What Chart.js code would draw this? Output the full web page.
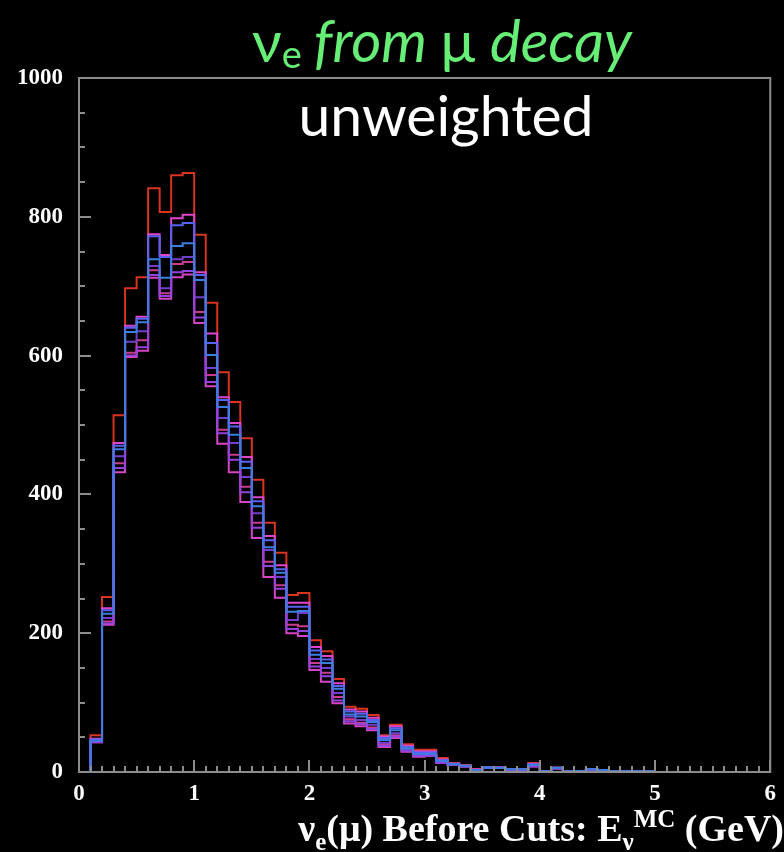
<!DOCTYPE html>
<html>
<head>
<meta charset="utf-8">
<script src="https://cdn.jsdelivr.net/npm/chart.js@4.4.1/dist/chart.umd.min.js"></script>
<style>
  html, body { margin: 0; padding: 0; background: #000; }
  canvas { display: block; }
</style>
</head>
<body>
<canvas id="grafico" width="784" height="852"></canvas>
<script>
// bins of 0.1 GeV from 0 to 5 GeV (left edges)
var binWidth = 0.1;

// series (events per bin)
var red     = [0,53,252,514,697,713,841,807,860,863,774,676,576,533,481,421,359,316,255,258,190,174,134,94,91,82,53,68,40,32,32,20,13,10,4,7,7,4,4,13,1,6,1,1,4,3,1,1,1,1];
var magHigh = [0,48,236,474,643,656,775,745,798,803,720,632,540,503,454,396,340,298,244,244,180,167,128,90,87,78,51,66,38,30,30,18,12,9,4,7,7,4,4,12,1,6,1,1,4,3,1,1,1,1];
var bluHigh = [0,47,233,470,640,653,772,742,788,791,716,618,536,498,447,390,334,292,238,238,175,162,124,87,84,75,49,63,36,28,28,17,12,9,3,7,6,4,4,11,1,6,1,1,4,3,1,1,1,1];
var steel   = [0,45,228,465,634,648,739,712,758,762,709,601,526,486,438,383,324,287,231,232,169,157,120,83,80,72,46,60,34,26,26,16,11,9,3,6,6,4,4,10,1,6,1,1,4,3,1,1,1,1];
var purple  = [0,45,222,455,620,635,729,697,739,742,684,582,510,474,425,373,320,281,219,229,163,150,114,80,75,68,42,56,32,25,25,15,11,8,3,6,6,3,3,10,1,5,1,1,3,3,1,1,1,1];
var rose    = [0,44,217,445,604,622,723,690,732,735,663,572,493,457,411,359,303,269,212,210,157,143,108,76,71,64,40,53,31,24,24,14,10,8,2,6,6,3,3,9,1,5,1,1,3,3,1,1,1,1];
var violet  = [0,43,214,438,600,612,716,686,720,722,655,562,488,450,403,352,297,264,206,203,152,138,103,73,69,62,38,51,30,23,23,13,10,8,2,6,6,3,3,8,1,5,1,1,3,3,1,1,1,1];
var magLow  = [0,43,212,432,598,607,712,682,713,717,647,556,473,432,389,337,281,251,200,196,147,130,99,70,66,60,36,49,29,22,23,13,10,8,2,6,6,3,3,8,1,5,1,1,3,3,1,1,1,1];

var xTicks = [0, 1, 2, 3, 4, 5, 6];
var yTicks = [0, 200, 400, 600, 800, 1000];

function histo(vals) {
  var pts = [];
  for (var i = 0; i < vals.length; i++) pts.push({x: i * binWidth, y: vals[i]});
  pts.push({x: vals.length * binWidth, y: vals[vals.length - 1]});
  pts.push({x: vals.length * binWidth, y: 0});
  return pts;
}

function ds(vals, color) {
  return {
    data: histo(vals),
    borderColor: color,
    borderWidth: 2,
    stepped: 'before',
    pointRadius: 0,
    fill: false,
    tension: 0
  };
}

// first dataset ends up on top
var datasets = [
  ds(steel,   '#3c7ee0'),
  ds(bluHigh, '#5862f2'),
  ds(violet,  '#9442dc'),
  ds(purple,  '#7040cc'),
  ds(magLow,  '#d644c6'),
  ds(rose,    '#cc3c8e'),
  ds(magHigh, '#e046cc'),
  ds(red,     '#d8341e')
];

var tickFont = {family: '"Liberation Serif", "DejaVu Serif", serif', weight: 'bold', size: 23};

var frame = {
  id: 'frame',
  beforeDraw: function(chart) {
    var c = chart.ctx;
    c.save();
    c.fillStyle = '#000';
    c.fillRect(0, 0, chart.width, chart.height);
    c.restore();
  },
  afterDraw: function(chart) {
    var c = chart.ctx, a = chart.chartArea, x = chart.scales.x, y = chart.scales.y;
    c.save();
    c.strokeStyle = '#8c8c8c';
    c.lineWidth = 2;
    c.strokeRect(a.left, a.top, a.right - a.left, a.bottom - a.top);
    c.beginPath();
    for (var i = 0; i <= 60; i++) {
      var px = Math.round(x.getPixelForValue(i / 10));
      var len = (i % 10 === 0) ? 12 : 6;
      c.moveTo(px, a.bottom);
      c.lineTo(px, a.bottom - len);
    }
    for (var v = 0; v <= 1000; v += 50) {
      var py = Math.round(y.getPixelForValue(v));
      var l2 = (v % 200 === 0) ? 12 : 6;
      c.moveTo(a.left, py);
      c.lineTo(a.left + l2, py);
    }
    c.stroke();

    // top title
    c.textBaseline = 'alphabetic';
    c.fillStyle = '#66ee77';
    var gx = 252, gy = 62;
    c.font = '58px Lato';
    c.fillText('\u03bd', gx, gy);
    gx += c.measureText('\u03bd').width;
    c.font = '38px Lato';
    c.fillText('e', gx, gy + 6);
    gx += c.measureText('e').width + 12;
    c.font = 'italic 58px Lato';
    c.fillText('from', gx, gy);
    gx += c.measureText('from ').width;
    c.font = '58px Lato';
    c.fillText('\u03bc', gx, gy);
    gx += c.measureText('\u03bc ').width;
    c.font = 'italic 58px Lato';
    c.fillText('decay', gx, gy);

    c.fillStyle = '#ffffff';
    c.font = '57px Lato';
    c.textAlign = 'center';
    c.fillText('unweighted', 446, 136);

    // x axis title
    c.textAlign = 'left';
    c.fillStyle = '#ffffff';
    var big = 'bold 38px "Liberation Serif", serif';
    var small = 'bold 25px "Liberation Serif", serif';
    var parts = [
      ['\u03bd', big, 0], ['e', small, 9], ['(\u03bc) Before Cuts: E', big, 0],
      ['\u03bd', small, 9], ['MC', small, -14], [' (GeV)', big, 0]
    ];
    var total = 0;
    parts.forEach(function(p) { c.font = p[1]; total += c.measureText(p[0]).width; });
    var tx = 784 - total, ty = 841;
    parts.forEach(function(p) {
      c.font = p[1];
      c.fillText(p[0], tx, ty + p[2]);
      tx += c.measureText(p[0]).width;
    });
    c.restore();
  }
};

var chart = new Chart(document.getElementById('grafico').getContext('2d'), {
  type: 'line',
  data: {datasets: datasets},
  options: {
    responsive: false,
    animation: false,
    layout: {padding: {left: 0, top: 78, right: 12, bottom: 0}},
    plugins: {legend: {display: false}, tooltip: {enabled: false}},
    scales: {
      x: {
        type: 'linear',
        min: 0, max: 6,
        afterFit: function(s) { s.height = 80; },
        afterBuildTicks: function(s) { s.ticks = xTicks.map(function(v) { return {value: v}; }); },
        grid: {display: false, drawTicks: false},
        border: {display: false},
        ticks: {color: '#ffffff', font: tickFont, padding: 8, maxRotation: 0, autoSkip: false,
                callback: function(v) { return String(v); }}
      },
      y: {
        min: 0, max: 1000,
        afterFit: function(s) { s.width = 79; },
        afterBuildTicks: function(s) { s.ticks = yTicks.map(function(v) { return {value: v}; }); },
        grid: {display: false, drawTicks: false},
        border: {display: false},
        ticks: {color: '#ffffff', font: tickFont, padding: 16,
                callback: function(v) { return String(v); }}
      }
    }
  },
  plugins: [frame]
});
</script>
</body>
</html>
